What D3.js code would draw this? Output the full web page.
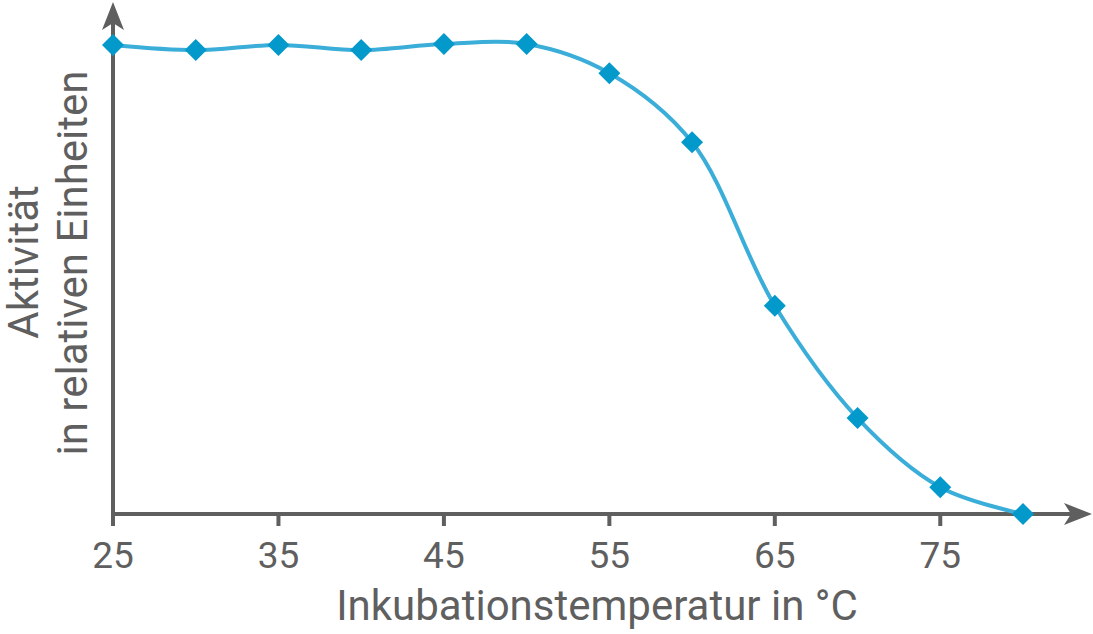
<!DOCTYPE html>
<html lang="de">
  <head>
    <meta charset="UTF-8" />
    <title>Aktivität vs Inkubationstemperatur</title>
    <script src="https://d3js.org/d3.v7.min.js"></script>
    <style>
      body { margin: 0; background: #fff; }
      text { font-family: Roboto, "Noto Sans", sans-serif; fill: #5f5f5f; }
    </style>
  </head>
  <body>
    <svg id="chart" width="1093" height="634"></svg>
    <script>
      // data
      const temps = [25, 30, 35, 40, 45, 50, 55, 60, 65, 70, 75, 80];
      const activity = [99.8, 98.7, 99.8, 98.7, 100, 100, 93.8, 79.1, 44.3, 20.4, 5.7, 0];
      const tickValues = [25, 35, 45, 55, 65, 75];

      const axisColor = "#5f5f5f";
      const svg = d3.select("#chart");

      const x = d3.scaleLinear().domain([25, 80]).range([113, 1023]);
      const y = d3.scaleLinear().domain([0, 100]).range([514, 44]);

      // x axis line + ticks
      const xAxis = svg.append("g").attr("transform", `translate(0,${y(0)})`);
      xAxis.append("line")
        .attr("x1", x(25)).attr("x2", 1072)
        .attr("stroke", axisColor).attr("stroke-width", 4);
      xAxis.selectAll(".tick")
        .data(tickValues)
        .enter()
        .append("line")
        .attr("x1", (d) => x(d)).attr("x2", (d) => x(d))
        .attr("y1", 0).attr("y2", 12)
        .attr("stroke", axisColor).attr("stroke-width", 4);
      xAxis.selectAll(".lbl")
        .data(tickValues)
        .enter()
        .append("text")
        .attr("x", (d) => x(d))
        .attr("y", 54)
        .attr("text-anchor", "middle")
        .attr("font-size", 37)
        .text((d) => d);
      // arrow head x
      xAxis.append("path")
        .attr("d", "M1092,0 L1064,-11 L1071,0 L1064,11 Z")
        .attr("fill", axisColor);

      // y axis line
      svg.append("line")
        .attr("x1", x(25)).attr("x2", x(25))
        .attr("y1", y(0) + 12).attr("y2", 22)
        .attr("stroke", axisColor).attr("stroke-width", 4);
      svg.append("path")
        .attr("d", `M${x(25)},2 L${x(25) - 11},30 L${x(25)},23 L${x(25) + 11},30 Z`)
        .attr("fill", axisColor);

      // axis titles
      svg.append("text")
        .attr("x", 597).attr("y", 620)
        .attr("text-anchor", "middle")
        .attr("font-size", 42)
        .text("Inkubationstemperatur in °C");

      svg.append("text")
        .attr("transform", "translate(38,262) rotate(-90)")
        .attr("text-anchor", "middle")
        .attr("font-size", 42)
        .text("Aktivität");
      svg.append("text")
        .attr("transform", "translate(87,263) rotate(-90)")
        .attr("text-anchor", "middle")
        .attr("font-size", 42)
        .text("in relativen Einheiten");

      // curve
      const pts = temps.map((t, i) => [t, activity[i]]);
      svg.append("path")
        .datum(pts)
        .attr("fill", "none")
        .attr("stroke", "#3aadd8")
        .attr("stroke-width", 4)
        .attr("d", d3.line()
          .x((d) => x(d[0]))
          .y((d) => y(d[1]))
          .curve(d3.curveCatmullRom.alpha(0.5)));

      // diamond markers
      svg.selectAll(".dot")
        .data(pts)
        .enter()
        .append("path")
        .attr("class", "dot")
        .attr("transform", (d) => `translate(${x(d[0])},${y(d[1])})`)
        .attr("d", "M0,-11 L11,0 L0,11 L-11,0 Z")
        .attr("fill", "#0499cb");
    </script>
  </body>
</html>
